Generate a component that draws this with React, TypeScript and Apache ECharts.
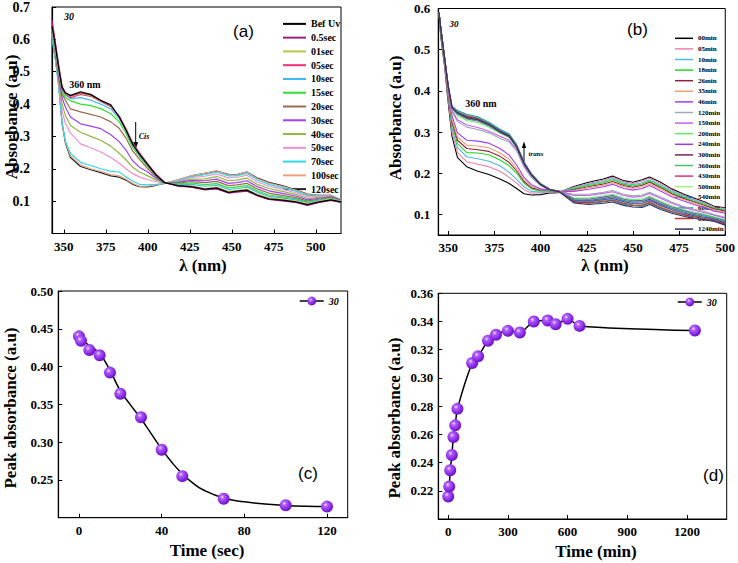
import React, { useEffect, useRef } from "react";
import * as echarts from "echarts";

// ---------- Panel (a): spectra under UV (sec) ----------
const WL_A = [343, 345, 347, 349, 351, 354, 360, 366, 372, 378, 383, 387, 391, 395, 400, 405, 410,
  418, 426, 434, 441, 448, 453, 459, 465, 472, 480, 488, 495, 502, 509, 515];
const NAMES_A = ["Bef Uv", "0.5sec", "01sec", "05sec", "10sec", "15sec", "20sec", "30sec", "40sec", "50sec", "70sec", "100sec", "120sec"];
const COLORS_A = ["#000000", "#a0207e", "#b8c840", "#f0307a", "#40b8f0", "#30e030", "#9a6a50", "#a040f0", "#90b840", "#f090d0", "#30d8e8", "#f0a080", "#222222"];
const A_BEF = [0.64, 0.58, 0.51, 0.45, 0.434, 0.427, 0.438, 0.43, 0.412, 0.398, 0.36, 0.32, 0.275, 0.245, 0.212, 0.18, 0.157,
  0.148, 0.145, 0.137, 0.141, 0.127, 0.131, 0.134, 0.119, 0.107, 0.103, 0.098, 0.089, 0.098, 0.104, 0.098];
const A_05S = [0.66, 0.59, 0.52, 0.455, 0.436, 0.425, 0.435, 0.428, 0.41, 0.395, 0.362, 0.322, 0.278, 0.247, 0.214, 0.182, 0.158,
  0.146, 0.143, 0.135, 0.138, 0.125, 0.128, 0.131, 0.117, 0.105, 0.101, 0.096, 0.087, 0.096, 0.102, 0.096];
const A_01S = [0.63, 0.575, 0.505, 0.45, 0.432, 0.424, 0.433, 0.426, 0.409, 0.393, 0.36, 0.32, 0.277, 0.246, 0.213, 0.181, 0.157,
  0.149, 0.147, 0.139, 0.143, 0.13, 0.133, 0.137, 0.122, 0.11, 0.106, 0.1, 0.092, 0.1, 0.106, 0.099];
const A_5S = [0.65, 0.585, 0.515, 0.452, 0.43, 0.42, 0.43, 0.424, 0.408, 0.392, 0.362, 0.324, 0.28, 0.25, 0.215, 0.183, 0.158,
  0.147, 0.144, 0.136, 0.139, 0.126, 0.129, 0.132, 0.118, 0.106, 0.102, 0.097, 0.088, 0.097, 0.103, 0.097];
const A_10S = [0.62, 0.57, 0.5, 0.445, 0.428, 0.417, 0.42, 0.412, 0.4, 0.385, 0.355, 0.318, 0.273, 0.243, 0.21, 0.18, 0.157,
  0.152, 0.152, 0.146, 0.149, 0.136, 0.139, 0.143, 0.128, 0.115, 0.11, 0.104, 0.095, 0.103, 0.108, 0.1];
const A_15S = [0.63, 0.57, 0.5, 0.44, 0.42, 0.41, 0.4, 0.395, 0.386, 0.37, 0.345, 0.31, 0.265, 0.238, 0.207, 0.178, 0.156,
  0.154, 0.156, 0.151, 0.154, 0.141, 0.144, 0.148, 0.132, 0.119, 0.113, 0.107, 0.097, 0.104, 0.109, 0.101];
const A_20S = [0.62, 0.56, 0.49, 0.43, 0.412, 0.385, 0.376, 0.368, 0.36, 0.345, 0.325, 0.295, 0.255, 0.23, 0.2, 0.174, 0.156,
  0.156, 0.16, 0.157, 0.161, 0.148, 0.15, 0.155, 0.138, 0.125, 0.118, 0.111, 0.1, 0.106, 0.111, 0.102];
const A_30S = [0.63, 0.56, 0.48, 0.42, 0.39, 0.36, 0.339, 0.332, 0.324, 0.305, 0.284, 0.258, 0.225, 0.205, 0.19, 0.17, 0.156,
  0.158, 0.164, 0.163, 0.168, 0.155, 0.157, 0.163, 0.145, 0.132, 0.124, 0.116, 0.104, 0.109, 0.113, 0.103];
const A_40S = [0.62, 0.55, 0.47, 0.4, 0.365, 0.334, 0.313, 0.3, 0.288, 0.27, 0.248, 0.228, 0.205, 0.19, 0.178, 0.165, 0.156,
  0.16, 0.168, 0.169, 0.176, 0.163, 0.165, 0.171, 0.152, 0.139, 0.13, 0.121, 0.108, 0.112, 0.115, 0.104];
const A_50S = [0.62, 0.55, 0.46, 0.38, 0.34, 0.31, 0.277, 0.265, 0.252, 0.235, 0.217, 0.2, 0.185, 0.175, 0.166, 0.16, 0.156,
  0.162, 0.173, 0.177, 0.184, 0.172, 0.173, 0.18, 0.16, 0.146, 0.137, 0.126, 0.113, 0.115, 0.117, 0.104];
const A_70S = [0.6, 0.54, 0.45, 0.345, 0.285, 0.247, 0.22, 0.21, 0.2, 0.192, 0.19, 0.175, 0.162, 0.152, 0.15, 0.152, 0.155,
  0.164, 0.176, 0.182, 0.19, 0.178, 0.178, 0.186, 0.166, 0.152, 0.142, 0.131, 0.117, 0.117, 0.118, 0.104];
const A_100S = [0.61, 0.545, 0.46, 0.34, 0.282, 0.24, 0.212, 0.2, 0.192, 0.182, 0.178, 0.168, 0.155, 0.146, 0.146, 0.15, 0.155,
  0.166, 0.179, 0.186, 0.194, 0.181, 0.181, 0.19, 0.17, 0.156, 0.146, 0.134, 0.12, 0.119, 0.119, 0.104];
const A_120S = [0.6, 0.54, 0.46, 0.34, 0.279, 0.235, 0.207, 0.197, 0.188, 0.178, 0.174, 0.165, 0.152, 0.145, 0.144, 0.149, 0.155,
  0.165, 0.178, 0.186, 0.193, 0.183, 0.182, 0.19, 0.172, 0.158, 0.148, 0.135, 0.122, 0.118, 0.118, 0.103];
const VALUES_A = [A_BEF, A_05S, A_01S, A_5S, A_10S, A_15S, A_20S, A_30S, A_40S, A_50S, A_70S, A_100S, A_120S];

// ---------- Panel (b): thermal recovery spectra (min) ----------
const WL_B = [345, 346, 348, 350, 352, 355, 360, 366, 372, 378, 383, 387, 391, 395, 400, 405, 410,
  418, 426, 434, 439, 445, 450, 455, 459, 465, 471, 477, 483, 489, 494, 500];
const NAMES_B = ["00min", "05min", "10min", "18min", "26min", "35min", "46min", "120min", "150min", "200min", "240min", "300min", "360min", "430min", "500min", "540min", "600min", "660min", "1240min"];
const COLORS_B = ["#000000", "#f080a8", "#50b8e0", "#20d820", "#902040", "#f0a070", "#a040f0", "#a0a8b0", "#c060f0", "#60f060", "#9a3ae8", "#802060", "#40c070", "#e03080", "#a8f080", "#3060d0", "#20a0a0", "#c03030", "#303068"];
const B_00 = [0.58, 0.53, 0.46, 0.37, 0.29, 0.238, 0.216, 0.205, 0.197, 0.186, 0.175, 0.163, 0.15, 0.147, 0.148, 0.152, 0.153,
  0.168, 0.178, 0.186, 0.193, 0.182, 0.178, 0.184, 0.191, 0.178, 0.162, 0.15, 0.14, 0.13, 0.12, 0.116];
const B_05 = [0.585, 0.535, 0.465, 0.38, 0.3, 0.25, 0.228, 0.222, 0.216, 0.205, 0.19, 0.176, 0.16, 0.152, 0.152, 0.155, 0.154,
  0.166, 0.175, 0.183, 0.19, 0.179, 0.175, 0.181, 0.188, 0.175, 0.159, 0.147, 0.137, 0.128, 0.118, 0.114];
const B_10 = [0.59, 0.54, 0.47, 0.385, 0.31, 0.262, 0.24, 0.235, 0.229, 0.218, 0.202, 0.185, 0.167, 0.156, 0.154, 0.156, 0.155,
  0.164, 0.173, 0.18, 0.187, 0.176, 0.172, 0.177, 0.184, 0.171, 0.156, 0.145, 0.135, 0.126, 0.116, 0.112];
const B_18 = [0.585, 0.535, 0.47, 0.39, 0.32, 0.272, 0.25, 0.249, 0.245, 0.232, 0.218, 0.2, 0.176, 0.162, 0.157, 0.157, 0.155,
  0.162, 0.17, 0.177, 0.184, 0.173, 0.169, 0.174, 0.181, 0.168, 0.153, 0.142, 0.132, 0.124, 0.114, 0.11];
const B_26 = [0.59, 0.54, 0.47, 0.39, 0.325, 0.28, 0.26, 0.257, 0.253, 0.241, 0.226, 0.206, 0.18, 0.165, 0.159, 0.158, 0.155,
  0.16, 0.167, 0.174, 0.18, 0.17, 0.166, 0.171, 0.178, 0.165, 0.15, 0.139, 0.13, 0.121, 0.113, 0.108];
const B_35 = [0.59, 0.545, 0.475, 0.395, 0.33, 0.288, 0.268, 0.266, 0.262, 0.249, 0.234, 0.211, 0.184, 0.168, 0.16, 0.158, 0.156,
  0.158, 0.165, 0.171, 0.177, 0.167, 0.163, 0.167, 0.174, 0.162, 0.147, 0.137, 0.128, 0.119, 0.111, 0.105];
const B_46 = [0.59, 0.545, 0.475, 0.4, 0.34, 0.298, 0.28, 0.278, 0.273, 0.26, 0.244, 0.22, 0.19, 0.172, 0.162, 0.159, 0.156,
  0.156, 0.161, 0.167, 0.173, 0.163, 0.159, 0.163, 0.17, 0.157, 0.143, 0.133, 0.124, 0.116, 0.108, 0.103];
const B_120 = [0.59, 0.55, 0.48, 0.405, 0.35, 0.325, 0.312, 0.306, 0.298, 0.285, 0.275, 0.255, 0.215, 0.19, 0.17, 0.16, 0.156,
  0.149, 0.149, 0.154, 0.158, 0.149, 0.145, 0.147, 0.154, 0.142, 0.13, 0.12, 0.113, 0.107, 0.1, 0.093];
const B_150 = [0.59, 0.55, 0.48, 0.405, 0.352, 0.33, 0.317, 0.311, 0.302, 0.29, 0.28, 0.258, 0.218, 0.192, 0.171, 0.16, 0.156,
  0.146, 0.146, 0.151, 0.155, 0.146, 0.142, 0.144, 0.151, 0.139, 0.127, 0.118, 0.11, 0.104, 0.098, 0.091];
const B_200 = [0.59, 0.55, 0.48, 0.408, 0.357, 0.34, 0.328, 0.323, 0.312, 0.297, 0.287, 0.262, 0.222, 0.195, 0.172, 0.16, 0.156,
  0.14, 0.14, 0.145, 0.149, 0.14, 0.136, 0.138, 0.144, 0.132, 0.121, 0.112, 0.105, 0.1, 0.094, 0.087];
const B_240 = [0.59, 0.55, 0.48, 0.41, 0.358, 0.344, 0.332, 0.327, 0.315, 0.299, 0.288, 0.264, 0.223, 0.196, 0.173, 0.16, 0.156,
  0.138, 0.137, 0.142, 0.146, 0.137, 0.133, 0.134, 0.141, 0.129, 0.118, 0.11, 0.103, 0.098, 0.092, 0.085];
const B_300 = [0.59, 0.55, 0.48, 0.41, 0.36, 0.346, 0.334, 0.329, 0.317, 0.301, 0.29, 0.265, 0.224, 0.197, 0.173, 0.161, 0.156,
  0.136, 0.134, 0.139, 0.143, 0.134, 0.13, 0.131, 0.137, 0.125, 0.115, 0.107, 0.1, 0.096, 0.09, 0.083];
const B_360 = [0.59, 0.55, 0.48, 0.41, 0.36, 0.345, 0.333, 0.328, 0.316, 0.3, 0.289, 0.264, 0.224, 0.196, 0.172, 0.16, 0.156,
  0.137, 0.135, 0.14, 0.144, 0.135, 0.131, 0.132, 0.139, 0.127, 0.116, 0.108, 0.101, 0.097, 0.091, 0.084];
const B_430 = [0.59, 0.55, 0.48, 0.412, 0.362, 0.35, 0.341, 0.335, 0.322, 0.305, 0.293, 0.268, 0.226, 0.198, 0.174, 0.161, 0.156,
  0.133, 0.13, 0.134, 0.137, 0.129, 0.125, 0.125, 0.132, 0.12, 0.11, 0.102, 0.096, 0.092, 0.087, 0.079];
const B_500 = [0.59, 0.55, 0.48, 0.412, 0.362, 0.351, 0.342, 0.336, 0.323, 0.306, 0.294, 0.268, 0.227, 0.198, 0.174, 0.161, 0.156,
  0.132, 0.129, 0.133, 0.136, 0.128, 0.124, 0.124, 0.13, 0.118, 0.109, 0.101, 0.095, 0.091, 0.086, 0.078];
const B_540 = [0.59, 0.55, 0.48, 0.41, 0.361, 0.348, 0.339, 0.333, 0.32, 0.303, 0.292, 0.266, 0.225, 0.197, 0.173, 0.16, 0.156,
  0.134, 0.132, 0.136, 0.139, 0.131, 0.127, 0.127, 0.134, 0.122, 0.112, 0.104, 0.097, 0.093, 0.088, 0.08];
const B_600 = [0.59, 0.55, 0.48, 0.413, 0.363, 0.352, 0.343, 0.337, 0.324, 0.307, 0.295, 0.27, 0.228, 0.199, 0.175, 0.161, 0.156,
  0.13, 0.127, 0.13, 0.133, 0.125, 0.121, 0.12, 0.127, 0.115, 0.106, 0.099, 0.092, 0.089, 0.085, 0.076];
const B_660 = [0.59, 0.55, 0.48, 0.41, 0.36, 0.347, 0.338, 0.332, 0.319, 0.302, 0.291, 0.266, 0.225, 0.197, 0.173, 0.16, 0.156,
  0.131, 0.128, 0.132, 0.135, 0.127, 0.123, 0.122, 0.129, 0.117, 0.107, 0.1, 0.094, 0.09, 0.086, 0.077];
const B_1240 = [0.59, 0.55, 0.48, 0.41, 0.36, 0.346, 0.335, 0.33, 0.318, 0.301, 0.29, 0.265, 0.224, 0.196, 0.172, 0.16, 0.155,
  0.128, 0.124, 0.127, 0.13, 0.122, 0.118, 0.117, 0.124, 0.112, 0.103, 0.096, 0.09, 0.087, 0.083, 0.074];
const VALUES_B = [B_00, B_05, B_10, B_18, B_26, B_35, B_46, B_120, B_150, B_200, B_240, B_300, B_360, B_430, B_500, B_540, B_600, B_660, B_1240];

// ---------- Panel (c): peak absorbance vs time (sec) ----------
const TIME_C = [0, 1, 5, 10, 15, 20, 30, 40, 50, 70, 100, 120];
const PEAK_C = [0.44, 0.434, 0.422, 0.415, 0.392, 0.364, 0.333, 0.29, 0.255, 0.225, 0.2165, 0.2147];
const FIT_TIME_C = [0, 5, 10, 15, 20, 25, 30, 35, 40, 45, 50, 55, 60, 70, 80, 90, 100, 110, 120];
const FIT_C = [0.436, 0.428, 0.417, 0.395, 0.368, 0.349, 0.331, 0.311, 0.291, 0.273, 0.258, 0.246, 0.237, 0.226, 0.221, 0.218, 0.216, 0.215, 0.2147];

// ---------- Panel (d): peak absorbance vs time (min) ----------
const TIME_D = [0, 5, 10, 18, 26, 35, 46, 120, 150, 200, 240, 300, 360, 430, 500, 540, 600, 660, 1240];
const PEAK_D = [0.216, 0.223, 0.2346, 0.2454, 0.2581, 0.2664, 0.2781, 0.3106, 0.3153, 0.3264, 0.3306, 0.3334, 0.3322, 0.340, 0.3407, 0.3381, 0.3419, 0.3369, 0.3336];

const TICKS_A_X = [350, 375, 400, 425, 450, 475, 500];
const TICKS_A_Y = [0.1, 0.2, 0.3, 0.4, 0.5, 0.6, 0.7];
const TICKS_B_X = [350, 375, 400, 425, 450, 475, 500];
const TICKS_B_Y = [0.1, 0.2, 0.3, 0.4, 0.5, 0.6];
const TICKS_C_X = [0, 40, 80, 120];
const TICKS_C_Y = [0.25, 0.3, 0.35, 0.4, 0.45, 0.5];
const TICKS_D_X = [0, 300, 600, 900, 1200];
const TICKS_D_Y = [0.22, 0.24, 0.26, 0.28, 0.3, 0.32, 0.34, 0.36];

const SERIF = "'Liberation Serif', 'Times New Roman', serif";
const SANS = "'Liberation Sans', Arial, sans-serif";

function valueAxis(gridIndex: number, min: number, max: number, ticks: number[], digits: number, margin: number, fontSize: number) {
  return {
    type: "value",
    gridIndex,
    min,
    max,
    axisLine: { show: true, onZero: false, lineStyle: { color: "#000", width: 1.2 } },
    axisTick: { show: true, inside: true, length: 4, customValues: ticks, lineStyle: { color: "#000", width: 1 } },
    axisLabel: {
      customValues: ticks,
      formatter: (v: number) => (digits === 0 ? String(Math.round(v)) : v.toFixed(digits)),
      fontFamily: SERIF,
      fontWeight: "bold",
      fontSize,
      color: "#000",
      margin,
    },
    splitLine: { show: false },
  } as any;
}

const ball = () =>
  new echarts.graphic.RadialGradient(0.38, 0.35, 0.65, [
    { offset: 0, color: "#f4e8ff" },
    { offset: 0.25, color: "#b060ff" },
    { offset: 0.7, color: "#8a2be2" },
    { offset: 1, color: "#6a12c8" },
  ]);

function txt(x: number, y: number, text: string, font: any, extra: any = {}) {
  return {
    type: "text",
    x,
    y,
    ...extra,
    style: { text, fill: "#000", align: "center", verticalAlign: "middle", ...font },
  };
}

export default function App() {
  const ref = useRef<HTMLDivElement>(null);
  useEffect(() => {
    if (!ref.current) return;
    const chart = echarts.init(ref.current, undefined, { renderer: "svg" });

    const seriesA = NAMES_A.map((name, i) => ({
      name,
      type: "line",
      xAxisIndex: 0,
      yAxisIndex: 0,
      showSymbol: false,
      symbol: "none",
      data: WL_A.map((w, j) => [w, VALUES_A[i][j]]),
      itemStyle: { color: COLORS_A[i] },
      lineStyle: { color: COLORS_A[i], width: 1.2 },
      z: 2 + (NAMES_A.length - i),
    }));
    const seriesB = NAMES_B.map((name, i) => ({
      name,
      type: "line",
      xAxisIndex: 1,
      yAxisIndex: 1,
      showSymbol: false,
      symbol: "none",
      data: WL_B.map((w, j) => [w, VALUES_B[i][j]]),
      itemStyle: { color: COLORS_B[i] },
      lineStyle: { color: COLORS_B[i], width: 1.1 },
      z: 2 + i,
    }));

    const gridBase = { show: true, borderColor: "#000", borderWidth: 1, backgroundColor: "transparent", containLabel: false };
    const legendText = (size: number, lh: number, italic = false) => ({
      fontFamily: SERIF,
      fontWeight: "bold",
      fontStyle: italic ? "italic" : "normal",
      fontSize: size,
      lineHeight: lh,
      color: "#000",
      padding: 0,
    });
    const ballLegend = (left: number, top: number) => ({
      data: ["30"],
      orient: "vertical",
      left,
      top,
      padding: 0,
      itemWidth: 24,
      itemHeight: 11,
      itemTextGap: 1,
      selectedMode: false,
      lineStyle: { color: "#000", width: 1.5, opacity: 1, type: "solid" },
      textStyle: legendText(10, 12, true),
    });

    const option: any = {
      animation: false,
      backgroundColor: "#fff",
      grid: [
        { ...gridBase, left: 52, top: 7, width: 289, height: 226.5 },
        { ...gridBase, left: 438.3, top: 8.5, width: 288, height: 226.5 },
        { ...gridBase, left: 58.3, top: 291, width: 289.4, height: 226.7 },
        { ...gridBase, left: 438.3, top: 293.3, width: 288.4, height: 225.7 },
      ],
      xAxis: [
        valueAxis(0, 343, 515, TICKS_A_X, 0, 6, 13),
        valueAxis(1, 344.6, 500, TICKS_B_X, 0, 6, 13),
        valueAxis(2, -10, 130, TICKS_C_X, 0, 6, 13),
        valueAxis(3, -50, 1400, TICKS_D_X, 0, 6, 13),
      ],
      yAxis: [
        valueAxis(0, 0, 0.7, TICKS_A_Y, 1, 22, 14),
        valueAxis(1, 0.05, 0.6, TICKS_B_Y, 1, 8, 13),
        valueAxis(2, 0.2, 0.5, TICKS_C_Y, 2, 5, 13),
        valueAxis(3, 0.2, 0.36, TICKS_D_Y, 2, 5, 13),
      ],
      legend: [
        {
          data: NAMES_A,
          orient: "vertical",
          left: 283,
          top: 17,
          padding: 0,
          itemGap: 0,
          itemWidth: 23,
          itemHeight: 2,
          itemTextGap: 4,
          icon: "rect",
          selectedMode: false,
          textStyle: legendText(10, 13.77),
        },
        {
          data: NAMES_B,
          orient: "vertical",
          left: 675,
          top: 33,
          padding: 0,
          itemGap: 0,
          itemWidth: 18,
          itemHeight: 1.5,
          itemTextGap: 2,
          icon: "rect",
          selectedMode: false,
          textStyle: legendText(7, 10.6),
        },
        ballLegend(299, 295),
        ballLegend(677, 296),
      ],
      series: [
        ...seriesA,
        ...seriesB,
        {
          name: "fit",
          type: "line",
          xAxisIndex: 2,
          yAxisIndex: 2,
          smooth: true,
          showSymbol: false,
          symbol: "none",
          data: FIT_TIME_C.map((t, i) => [t, FIT_C[i]]),
          lineStyle: { color: "#000", width: 1.5 },
          itemStyle: { color: "#000" },
          z: 3,
        },
        {
          name: "30",
          type: "line",
          xAxisIndex: 2,
          yAxisIndex: 2,
          data: TIME_C.map((t, i) => [t, PEAK_C[i]]),
          symbol: "circle",
          symbolSize: 12,
          lineStyle: { width: 0, opacity: 0 },
          itemStyle: { color: ball(), borderWidth: 0 },
          z: 5,
        },
        {
          name: "30",
          type: "line",
          xAxisIndex: 3,
          yAxisIndex: 3,
          data: TIME_D.map((t, i) => [t, PEAK_D[i]]),
          symbol: "circle",
          symbolSize: 12,
          smooth: 0.25,
          lineStyle: { color: "#000", width: 1.5 },
          itemStyle: { color: ball(), borderWidth: 0 },
          z: 5,
        },
      ],
      graphic: [
        // axis titles
        txt(11, 117, "Absorbance (a.u)", { font: `bold 17px ${SERIF}` }, { rotation: Math.PI / 2 }),
        txt(203, 265, "λ (nm)", { font: `bold 17px ${SERIF}` }),
        txt(395, 118, "Absorbance (a.u)", { font: `bold 17px ${SERIF}` }, { rotation: Math.PI / 2 }),
        txt(605, 265, "λ (nm)", { font: `bold 17px ${SERIF}` }),
        txt(10, 408, "Peak absorbance (a.u)", { font: `bold 17px ${SERIF}` }, { rotation: Math.PI / 2 }),
        txt(207, 550, "Time (sec)", { font: `bold 17px ${SERIF}` }),
        txt(394, 418, "Peak absorbance (a.u)", { font: `bold 17px ${SERIF}` }, { rotation: Math.PI / 2 }),
        txt(596, 551, "Time (min)", { font: `bold 17px ${SERIF}` }),
        // panel letters
        txt(243.5, 31.5, "(a)", { font: `17px ${SANS}` }),
        txt(637.5, 29.5, "(b)", { font: `17px ${SANS}` }),
        txt(308, 473.5, "(c)", { font: `17px ${SANS}` }),
        txt(713.5, 475, "(d)", { font: `17px ${SANS}` }),
        // annotations
        txt(69, 16.5, "30", { font: `italic bold 10px ${SERIF}` }),
        txt(454, 23.5, "30", { font: `italic bold 9px ${SERIF}` }),
        txt(85, 84, "360 nm", { font: `bold 10px ${SERIF}` }),
        txt(481, 103.5, "360 nm", { font: `bold 10px ${SERIF}` }),
        txt(144, 136, "Cis", { font: `italic bold 8px ${SERIF}` }),
        txt(536, 153.5, "trans", { font: `italic bold 7px ${SERIF}` }),
        { type: "line", shape: { x1: 135.7, y1: 122, x2: 135.7, y2: 144 }, style: { stroke: "#000", lineWidth: 1 } },
        { type: "polygon", shape: { points: [[133.2, 142], [138.2, 142], [135.7, 149]] }, style: { fill: "#000" } },
        { type: "line", shape: { x1: 524, y1: 146, x2: 524, y2: 164 }, style: { stroke: "#000", lineWidth: 1 } },
        { type: "polygon", shape: { points: [[521.8, 148], [526.2, 148], [524, 141.5]] }, style: { fill: "#000" } },
      ],
    };
    chart.setOption(option);
    return () => chart.dispose();
  }, []);
  return <div ref={ref} style={{ position: "absolute", left: 0, top: 0, width: 738, height: 563 }} />;
}
